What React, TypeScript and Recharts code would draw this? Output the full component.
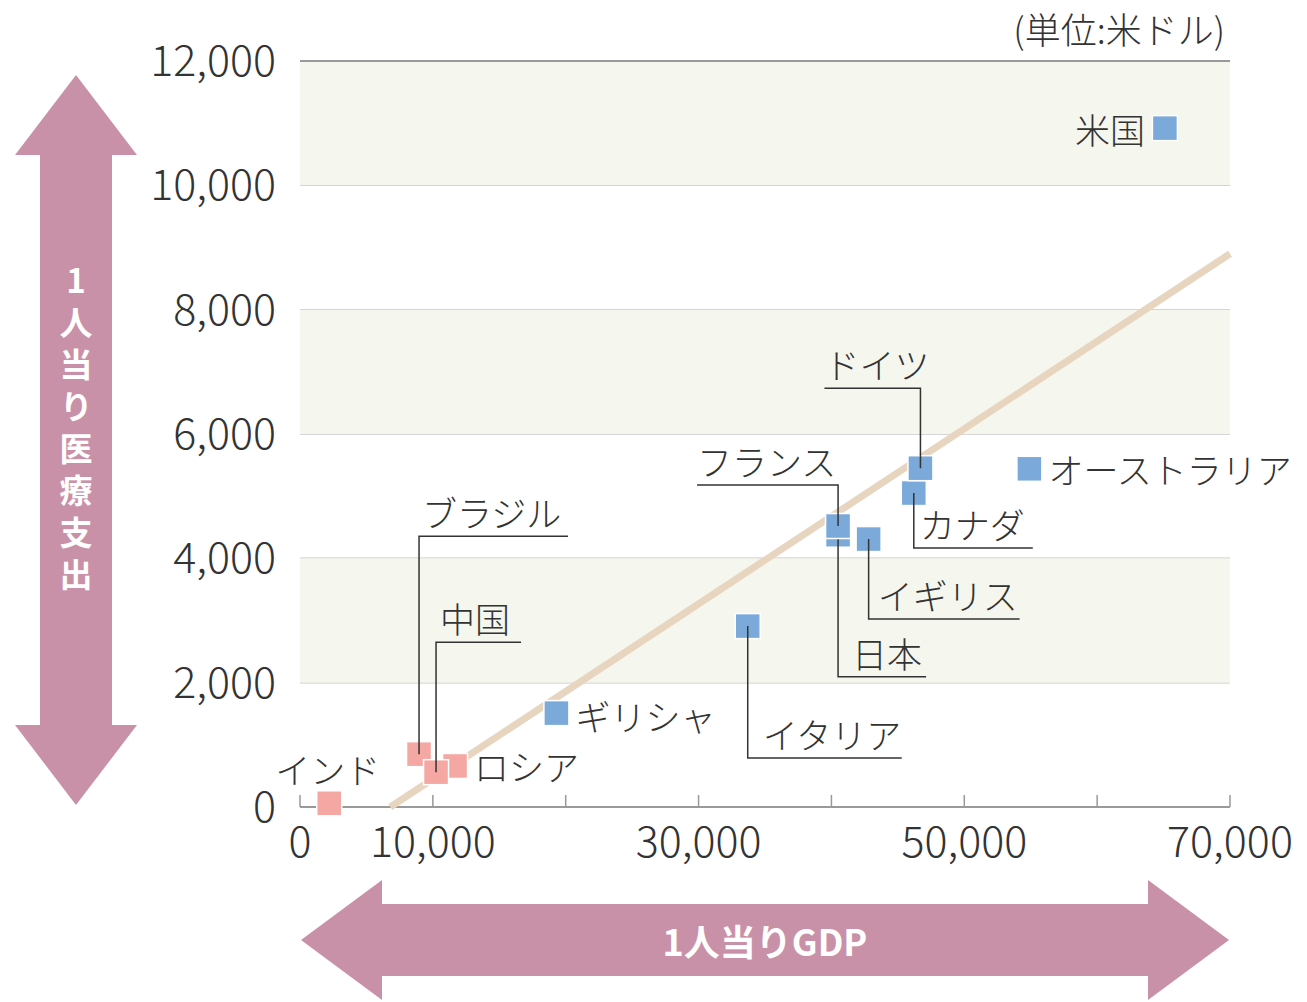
import React from "react";
import {
  ScatterChart,
  Scatter,
  XAxis,
  YAxis,
  CartesianGrid,
  ReferenceArea,
  ReferenceLine,
} from "recharts";

// 先進国（青）
const blueNames = ["日本", "フランス", "イギリス", "イタリア", "ギリシャ", "カナダ", "ドイツ", "オーストラリア", "米国"];
const blueGdp = [40500, 40500, 42800, 33700, 19300, 46200, 46700, 54900, 65100];
const blueHealth = [4380, 4520, 4310, 2910, 1510, 5050, 5450, 5440, 10920];

// 新興国（ピンク）
const pinkNames = ["インド", "ブラジル", "ロシア", "中国"];
const pinkGdp = [2200, 8960, 11670, 10240];
const pinkHealth = [60, 850, 660, 560];

// 近似線
const trendGdp = [6800, 70000];
const trendHealth = [0, 8900];

const xTicks = [0, 10000, 20000, 30000, 40000, 50000, 60000, 70000];
const xLabelTicks = [0, 10000, 30000, 50000, 70000];
const yTicks = [0, 2000, 4000, 6000, 8000, 10000, 12000];
const bands = [
  [2000, 4000],
  [6000, 8000],
  [10000, 12000],
];

const blueData = blueNames.map((name, i) => ({ name, x: blueGdp[i], y: blueHealth[i] }));
const pinkData = pinkNames.map((name, i) => ({ name, x: pinkGdp[i], y: pinkHealth[i] }));
const trendData = trendGdp.map((x, i) => ({ x, y: trendHealth[i] }));

const FONT = '"Noto Sans CJK JP", "Noto Sans", sans-serif';
const TEXT = "#333";
const ARROW = "#c991a8";
const LABEL_SIZE = 35;

// ラベルの配置（マーカー中心からのオフセット）
type LabelLayout =
  | { kind: "side"; dx: number; dy: number; anchor: "start" | "end" }
  | { kind: "leader"; dy: number; dx: number; textDx: number };

const labelLayout: Record<string, LabelLayout> = {
  米国: { kind: "side", dx: -20, dy: 0, anchor: "end" },
  オーストラリア: { kind: "side", dx: 19, dy: 0, anchor: "start" },
  ギリシャ: { kind: "side", dx: 19, dy: 2, anchor: "start" },
  ロシア: { kind: "side", dx: 19, dy: 0, anchor: "start" },
  インド: { kind: "side", dx: 51, dy: -35, anchor: "end" },
  ドイツ: { kind: "leader", dy: -80, dx: -96, textDx: -96 },
  フランス: { kind: "leader", dy: -41, dx: -141, textDx: -141 },
  カナダ: { kind: "leader", dy: 55, dx: 119, textDx: 6 },
  イギリス: { kind: "leader", dy: 80, dx: 151, textDx: 9 },
  日本: { kind: "leader", dy: 142, dx: 88, textDx: 14 },
  イタリア: { kind: "leader", dy: 132, dx: 154, textDx: 15 },
  ブラジル: { kind: "leader", dy: -218, dx: 149, textDx: 3 },
  中国: { kind: "leader", dy: -130, dx: 85, textDx: 4 },
};

const makeMarker = (color: string) => (props: any) => {
  const { cx, cy, payload } = props;
  const s = 25;
  const layout = labelLayout[payload.name];
  let label: React.ReactNode = null;
  if (layout && layout.kind === "side") {
    label = (
      <text
        x={cx + layout.dx}
        y={cy + layout.dy}
        textAnchor={layout.anchor}
        dominantBaseline="central"
        fontSize={LABEL_SIZE}
        fontWeight={300}
        fontFamily={FONT}
        fill={TEXT}
      >
        {payload.name}
      </text>
    );
  } else if (layout && layout.kind === "leader") {
    const ly = cy + layout.dy;
    const lx = cx + layout.dx;
    label = (
      <g>
        <polyline
          points={`${cx},${cy} ${cx},${ly} ${lx},${ly}`}
          fill="none"
          stroke={TEXT}
          strokeWidth={1.5}
        />
        <text
          x={cx + layout.textDx}
          y={ly - 9}
          fontSize={LABEL_SIZE}
          fontWeight={300}
          fontFamily={FONT}
          fill={TEXT}
        >
          {payload.name}
        </text>
      </g>
    );
  }
  return (
    <g>
      <rect x={cx - s / 2} y={cy - s / 2} width={s} height={s} fill={color} stroke="#fff" strokeWidth={1.5} />
      {label}
    </g>
  );
};

const XTick = (props: any) => {
  const { x, y, payload } = props;
  const v = payload.value as number;
  return (
    <g>
      <line x1={x} y1={y} x2={x} y2={y - 12} stroke="#999" strokeWidth={1.5} />
      {xLabelTicks.includes(v) && (
        <text
          x={x}
          y={y + 31}
          textAnchor="middle"
          dominantBaseline="central"
          fontSize={43}
          fontWeight={300}
          fontFamily={FONT}
          fill={TEXT}
        >
          {v.toLocaleString("en-US")}
        </text>
      )}
    </g>
  );
};

const YTick = (props: any) => {
  const { x, y, payload } = props;
  return (
    <text
      x={x - 24}
      y={y - 4}
      textAnchor="end"
      dominantBaseline="central"
      fontSize={43}
      fontWeight={300}
      fontFamily={FONT}
      fill={TEXT}
    >
      {(payload.value as number).toLocaleString("en-US")}
    </text>
  );
};

function Arrows() {
  const vert = "76,75 137,155 112,155 112,725 137,725 76,805 15,725 40,725 40,155 15,155";
  const horiz = "301,940 382,880 382,904 1148,904 1148,880 1229,940 1148,1000 1148,976 382,976 382,1000";
  return (
    <svg
      width={1307}
      height={1002}
      style={{ position: "absolute", left: 0, top: 0, pointerEvents: "none" }}
    >
      <polygon points={vert} fill={ARROW} />
      <text
        x={76}
        y={432}
        textAnchor="middle"
        fontSize={33}
        fontWeight="bold"
        fontFamily={FONT}
        fill="#fff"
        style={{ writingMode: "vertical-rl", textOrientation: "upright", letterSpacing: 9 }}
      >
        1人当り医療支出
      </text>
      <polygon points={horiz} fill={ARROW} />
      <text
        x={765}
        y={940}
        textAnchor="middle"
        dominantBaseline="central"
        fontSize={36}
        fontWeight="bold"
        fontFamily={FONT}
        fill="#fff"
      >
        1人当りGDP
      </text>
      <text
        x={1225}
        y={28}
        textAnchor="end"
        dominantBaseline="central"
        fontSize={36}
        fontWeight={300}
        fontFamily={FONT}
        fill={TEXT}
      >
        (単位:米ドル)
      </text>
    </svg>
  );
}

export default function App() {
  return (
    <div style={{ position: "absolute", left: 0, top: 0, width: 1307, height: 1002, background: "#fff" }}>
      <ScatterChart width={1307} height={1002} margin={{ top: 61, right: 77, bottom: 135, left: 200 }}>
        {bands.map(([y1, y2]) => (
          <ReferenceArea key={y1} y1={y1} y2={y2} fill="#f5f6ee" fillOpacity={1} stroke="none" />
        ))}
        <CartesianGrid vertical={false} stroke="#c8c8c8" strokeWidth={1.5} />
        <ReferenceLine y={12000} stroke="#999" strokeWidth={2} />
        <XAxis
          type="number"
          dataKey="x"
          domain={[0, 70000]}
          ticks={xTicks}
          interval={0}
          height={60}
          tickSize={0}
          tickMargin={0}
          tickLine={false}
          axisLine={{ stroke: "#999", strokeWidth: 2 }}
          tick={<XTick />}
        />
        <YAxis
          type="number"
          dataKey="y"
          domain={[0, 12000]}
          ticks={yTicks}
          interval={0}
          width={100}
          tickSize={0}
          tickMargin={0}
          tickLine={false}
          axisLine={false}
          tick={<YTick />}
        />
        <Scatter
          data={trendData}
          line={{ stroke: "#e8d5bf", strokeWidth: 7 }}
          shape={() => null}
          isAnimationActive={false}
        />
        <Scatter data={pinkData} shape={makeMarker("#f4a7a3")} isAnimationActive={false} />
        <Scatter data={blueData} shape={makeMarker("#7aa9da")} isAnimationActive={false} />
      </ScatterChart>
      <Arrows />
    </div>
  );
}
